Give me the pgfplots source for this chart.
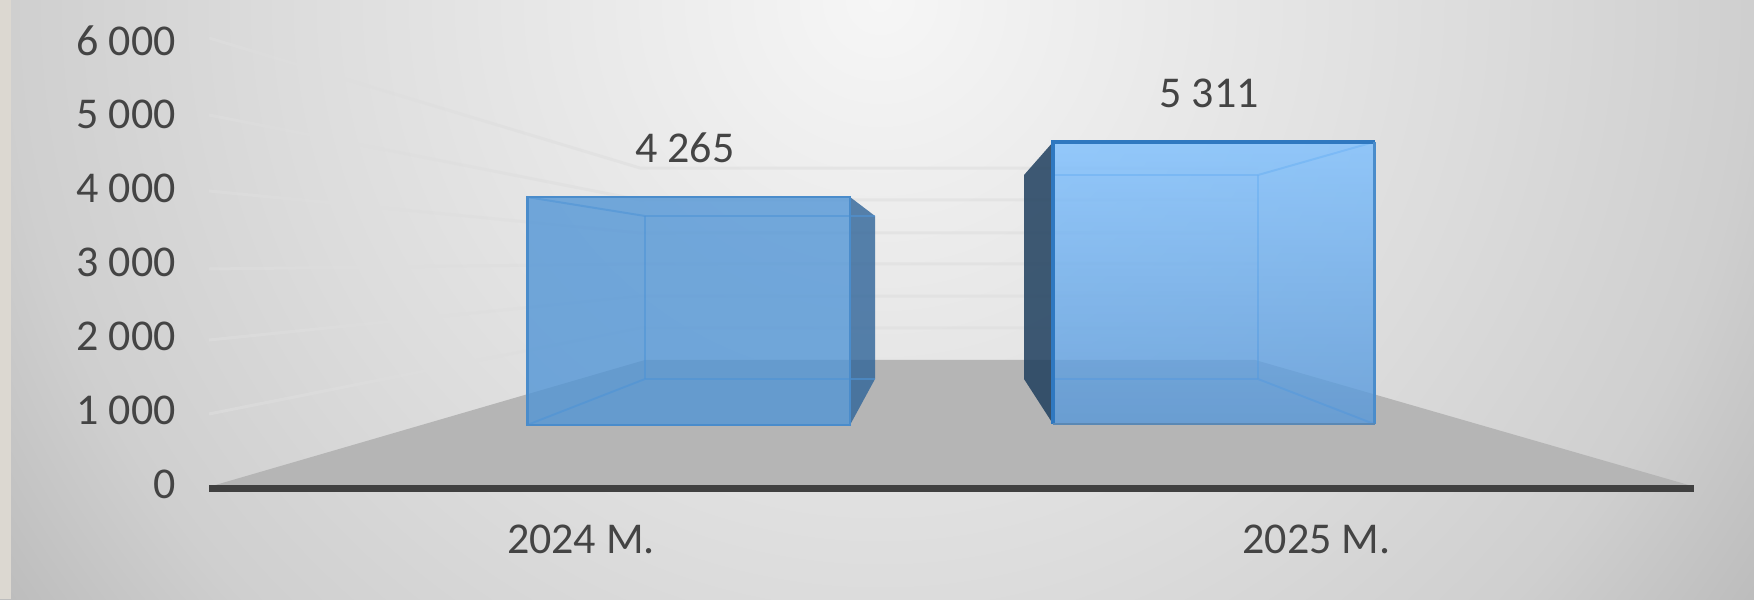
\documentclass[border=0pt]{standalone}
\usepackage{pgfplots}
\pgfplotsset{compat=1.18}
\usepackage{fontspec}
\setmainfont{Carlito}
\definecolor{txt}{HTML}{444444}
\definecolor{floorc}{HTML}{B5B5B5}
\definecolor{axisc}{HTML}{404040}
\definecolor{gridc}{HTML}{DEDEDE}
\definecolor{barA}{HTML}{4F94D6}
\definecolor{barBtop}{HTML}{7ABEFF}
\definecolor{barBbot}{HTML}{5597DA}
\definecolor{edgeA}{HTML}{4A8CCB}
\definecolor{edgeB}{HTML}{2F78C0}
\definecolor{inner}{HTML}{4F94D6}
\definecolor{sideA}{HTML}{2F6499}
\definecolor{sideB}{HTML}{1F3F5E}
\definecolor{bg0}{HTML}{F6F6F6}
\definecolor{bg1}{HTML}{DCDCDC}
\definecolor{bg2}{HTML}{CFCFCF}
\definecolor{bg3}{HTML}{BDBDBD}
\definecolor{stripc}{HTML}{DCD8D1}
\pgfdeclareradialshading{bgshade}{\pgfpoint{0bp}{0bp}}{color(0bp)=(bg0); color(13.6bp)=(bg1); color(19.8bp)=(bg2); color(24bp)=(bg3); color(50bp)=(bg3)}
\begin{document}
\begin{tikzpicture}
\useasboundingbox (0,0) rectangle (877pt,299.5pt);
\fill[shading=bgshade] (-110pt,-250.5pt) rectangle (990pt,849.5pt);
\fill[stripc] (0,0) rectangle (5.5pt,299.5pt);
\begin{axis}[
  at={(0,0)}, anchor=south west,
  width=877pt, height=299.5pt, scale only axis,
  xmin=0, xmax=1754, ymin=-1557.7, ymax=6555.8,
  axis line style={draw=none},
  major tick length=0pt,
  ytick={0,1000,2000,3000,4000,5000,6000},
  yticklabels={0,1 000,2 000,3 000,4 000,5 000,6 000},
  xtick={581,1316.5},
  xticklabels={2024 M.,2025 M.},
  tick label style={font=\fontsize{22}{26}\selectfont, text=txt, inner sep=0pt},
  yticklabel style={anchor=east, xshift=88pt},
  xticklabel style={anchor=base, yshift=23pt},
  clip=false,
]
% floor
\addplot[fill=floorc, draw=none] coordinates {(212,-27) (645,1680) (1255,1680) (1692,-27)} --cycle;
% gridlines, side wall and back wall
\addplot[gridc, draw opacity=0.6, line width=1.5pt] coordinates {(209,6041) (640,4280) (1258,4280)};
\addplot[gridc, draw opacity=0.6, line width=1.5pt] coordinates {(209,4998) (640,3847) (1258,3847)};
\addplot[gridc, draw opacity=0.6, line width=1.5pt] coordinates {(209,3969) (640,3400) (1258,3400)};
\addplot[gridc, draw opacity=0.6, line width=1.5pt] coordinates {(209,2912) (640,2980) (1258,2980)};
\addplot[gridc, draw opacity=0.6, line width=1.5pt] coordinates {(209,1950) (640,2546) (1258,2546)};
\addplot[gridc, draw opacity=0.6, line width=1.5pt] coordinates {(209,948) (640,2113) (1258,2113)};
% axis line
\addplot[axisc, line width=3.25pt] coordinates {(209,-61) (1694,-61)};
% bar 2024: side and inner box
\addplot[fill=sideA, fill opacity=0.8, draw=none] coordinates {(850,3887) (875,3630) (875,1422) (850,799)} --cycle;
\addplot[inner, draw opacity=0.6, line width=1pt] coordinates {(645,3630) (875,3630)};
\addplot[inner, draw opacity=0.6, line width=1pt] coordinates {(645,3630) (645,1422)};
\addplot[inner, draw opacity=0.6, line width=1pt] coordinates {(645,1422) (875,1422)};
\addplot[inner, draw opacity=0.6, line width=1pt] coordinates {(527,3887) (645,3630)};
\addplot[inner, draw opacity=0.6, line width=1pt] coordinates {(527,799) (645,1422)};
% bar 2024: front
\addplot[fill=barA, fill opacity=0.78, draw=edgeA, draw opacity=1, line width=1.25pt] coordinates {(527.5,3887) (850,3887) (850,799) (527.5,799)} --cycle;
% bar 2025: side and inner box
\addplot[fill=sideB, fill opacity=0.85, draw=none] coordinates {(1053,4632) (1024,4185) (1024,1422) (1053,813)} --cycle;
\addplot[inner, draw opacity=0.6, line width=1pt] coordinates {(1053,4185) (1258,4185)};
\addplot[inner, draw opacity=0.6, line width=1pt] coordinates {(1258,4185) (1258,1422)};
\addplot[inner, draw opacity=0.6, line width=1pt] coordinates {(1053,1422) (1258,1422)};
\addplot[inner, draw opacity=0.6, line width=1pt] coordinates {(1374,4632) (1258,4185)};
\addplot[inner, draw opacity=0.6, line width=1pt] coordinates {(1374,813) (1258,1422)};
% bar 2025: front
\addplot[top color=barBtop, bottom color=barBbot, fill opacity=0.78, draw=none] coordinates {(1053,4632) (1374.5,4632) (1374.5,813) (1053,813)} --cycle;
\addplot[edgeB, line width=1.75pt] coordinates {(1053,813) (1053,4632) (1374.5,4632)};
\addplot[edgeA, line width=1.1pt] coordinates {(1374.5,4632) (1374.5,813)};
\addplot[edgeA!70!gray, line width=1.1pt] coordinates {(1374.5,813) (1053,813)};
% data labels
\addplot[only marks, mark=none, nodes near coords, point meta=explicit symbolic,
  nodes near coords style={anchor=center, inner sep=0pt, text=txt, font=\fontsize{22}{26}\selectfont}]
  coordinates {(685,4551)[4 265] (1209,5296)[5 311]};
\end{axis}
\end{tikzpicture}
\end{document}
